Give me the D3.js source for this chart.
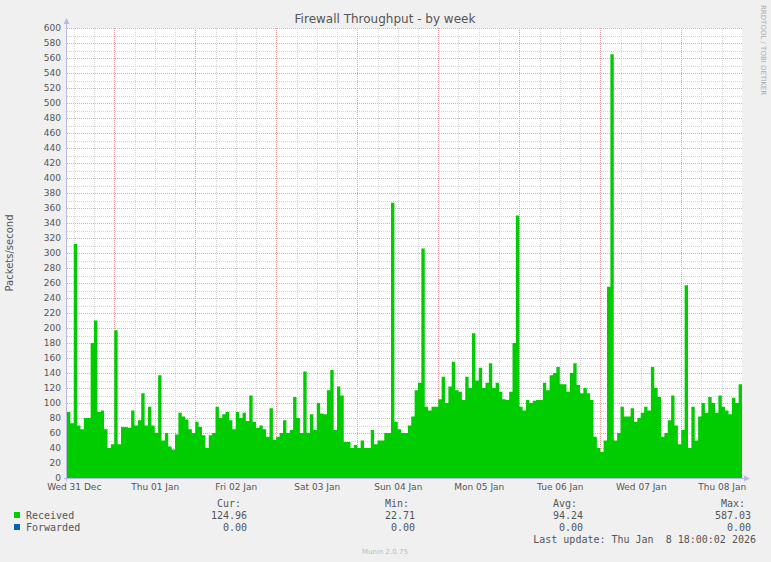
<!DOCTYPE html>
<html><head><meta charset="utf-8">
<script src="https://cdn.jsdelivr.net/npm/d3@7"></script>
<style>body{margin:0;background:#f0f0f0}svg{display:block}line{shape-rendering:crispEdges}</style>
</head><body><svg id="c" width="771" height="562"></svg>
<script>
const title = "Firewall Throughput - by week";
const yLabel = "Packets/second";
const startTime = new Date(2025, 11, 31, 10, 0);
const endTime = new Date(2026, 0, 8, 18, 0);
// hourly samples from startTime
const received = [88,73,312,70,65,80,80,180,210,88,90,65,40,45,197,45,68,68,67,90,
70,77,113,70,95,70,60,137,50,60,42,38,58,87,82,78,65,60,75,68,
57,40,57,60,95,80,85,88,77,65,88,80,87,76,110,75,67,70,65,55,
93,51,55,60,77,60,64,108,80,60,142,60,85,64,100,86,85,117,144,64,
122,110,48,48,40,44,40,50,40,40,64,45,50,50,60,60,367,75,65,60,
60,70,82,117,127,306,95,90,95,95,105,135,100,122,155,117,115,104,135,120,
193,130,147,120,127,153,120,127,115,105,104,115,180,350,95,90,104,100,103,104,
104,127,117,137,140,148,125,125,115,140,153,124,113,120,113,104,55,40,35,50,
255,565,50,60,95,82,82,93,75,80,87,95,90,148,120,108,55,60,77,110,
70,45,64,257,40,95,50,82,100,87,108,100,87,110,95,90,85,107,100,125];
const forwarded = received.map(() => 0);
const legendCols = ["Cur:", "Min:", "Avg:", "Max:"];
const legendRows = [
  {name: "Received", color: "#00cc00", vals: ["124.96", "22.71", "94.24", "587.03"]},
  {name: "Forwarded", color: "#0066b3", vals: ["0.00", "0.00", "0.00", "0.00"]}
];
const lastUpdate = "Last update: Thu Jan\u00a0\u00a08 18:00:02 2026";
const footer = "Munin 2.0.75";

const svg = d3.select("#c");
const L = 67, R = 742, T = 28, B = 478;
const x = d3.scaleTime().domain([startTime, endTime]).range([L, R]);
const y = d3.scaleLinear().domain([0, 600]).range([B, T]);
svg.append("rect").attr("x", L).attr("y", T).attr("width", R - L).attr("height", B - T).attr("fill", "#fff");

const g = svg.append("g");
d3.range(10, 601, 10).filter(v => v % 20).forEach(v =>
  g.append("line").attr("x1", L).attr("x2", R).attr("y1", y(v) + .5).attr("y2", y(v) + .5)
   .attr("stroke", "#d4d4d4").attr("stroke-dasharray", "1,1"));
const six = d3.timeHour.every(6).range(startTime, endTime);
six.forEach(t => { if (t.getHours() !== 0)
  g.append("line").attr("x1", Math.round(x(t)) + .5).attr("x2", Math.round(x(t)) + .5).attr("y1", T).attr("y2", B)
   .attr("stroke", "#d4d4d4").attr("stroke-dasharray", "1,1"); });
d3.range(20, 601, 20).forEach(v =>
  g.append("line").attr("x1", L).attr("x2", R).attr("y1", y(v) + .5).attr("y2", y(v) + .5)
   .attr("stroke", "#e8a8a8").attr("stroke-dasharray", "1,1"));
d3.timeDay.range(startTime, endTime).forEach(t =>
  g.append("line").attr("x1", Math.round(x(t)) + .5).attr("x2", Math.round(x(t)) + .5).attr("y1", T).attr("y2", B)
   .attr("stroke", "#e8a0a0").attr("stroke-dasharray", "1,1"));

const pts = received.map((v, i) => [d3.timeHour.offset(startTime, i), v]);
pts.push([endTime, received[received.length - 1]]);
svg.append("path").datum(pts)
  .attr("d", d3.area().curve(d3.curveStepAfter).x(d => x(d[0])).y0(y(0)).y1(d => y(d[1])))
  .attr("fill", "#00cc00");

const ax = "#b8b8e8";
svg.append("line").attr("x1", L - .5).attr("x2", L - .5).attr("y1", B + 3).attr("y2", T - 6).attr("stroke", ax);
svg.append("path").attr("d", `M${L-3.5},${T-4}L${L-.5},${T-10}L${L+2.5},${T-4}Z`).attr("fill", ax);
svg.append("line").attr("x1", L - 3).attr("x2", R + 4).attr("y1", B + .5).attr("y2", B + .5).attr("stroke", ax);
svg.append("path").attr("d", `M${R+2},${B-2.5}L${R+8},${B+.5}L${R+2},${B+3.5}Z`).attr("fill", ax);

const yAxis = d3.axisLeft(y).tickValues(d3.range(0, 601, 20)).tickSize(0).tickPadding(4);
const ya = svg.append("g").attr("transform", `translate(${L - 2},0)`).call(yAxis);
ya.select(".domain").remove();
ya.selectAll("text").attr("font-family", "DejaVu Sans").attr("font-size", 9).attr("fill", "#555");

const noons = d3.timeDay.range(d3.timeDay.floor(startTime), endTime).map(d => d3.timeHour.offset(d, 12));
const xAxis = d3.axisBottom(x).tickValues(noons).tickSize(0).tickPadding(6)
  .tickFormat(d3.timeFormat("%a %d %b"));
const xa = svg.append("g").attr("transform", `translate(0,${B})`).call(xAxis);
xa.select(".domain").remove();
xa.selectAll("text").attr("font-family", "DejaVu Sans").attr("font-size", 9).attr("fill", "#555");

svg.append("text").attr("x", 385).attr("y", 23).attr("text-anchor", "middle")
  .attr("font-family", "DejaVu Sans").attr("font-size", 12).attr("fill", "#555").text(title);
svg.append("text").attr("transform", "translate(13,253) rotate(-90)").attr("text-anchor", "middle")
  .attr("font-family", "DejaVu Sans").attr("font-size", 10).attr("fill", "#555").text(yLabel);
svg.append("text").attr("transform", "translate(761,5) rotate(90)")
  .attr("font-family", "DejaVu Sans").attr("font-size", 7).attr("fill", "#aaa").text("RRDTOOL / TOBI OETIKER");

const colX = [247, 415, 583, 751];
const lg = svg.append("g");
function txt(xp, yp, s, anchor) {
  return lg.append("text").attr("x", xp).attr("y", yp).attr("text-anchor", anchor || "start")
    .attr("font-family", "DejaVu Sans Mono").attr("font-size", 10).attr("fill", "#555").text(s);
}
legendCols.forEach((c, i) => txt(colX[i] - 6, 507, c, "end"));
legendRows.forEach((r, j) => {
  const yy = 519 + j * 12;
  lg.append("rect").attr("x", 14).attr("y", yy - 7).attr("width", 6).attr("height", 6).attr("fill", r.color);
  txt(26, yy, r.name);
  r.vals.forEach((v, i) => txt(colX[i], yy, v, "end"));
});
txt(756, 543, lastUpdate, "end");
svg.append("text").attr("x", 385).attr("y", 554).attr("text-anchor", "middle")
  .attr("font-family", "DejaVu Sans").attr("font-size", 7).attr("fill", "#bbb").text(footer);
</script></body></html>
